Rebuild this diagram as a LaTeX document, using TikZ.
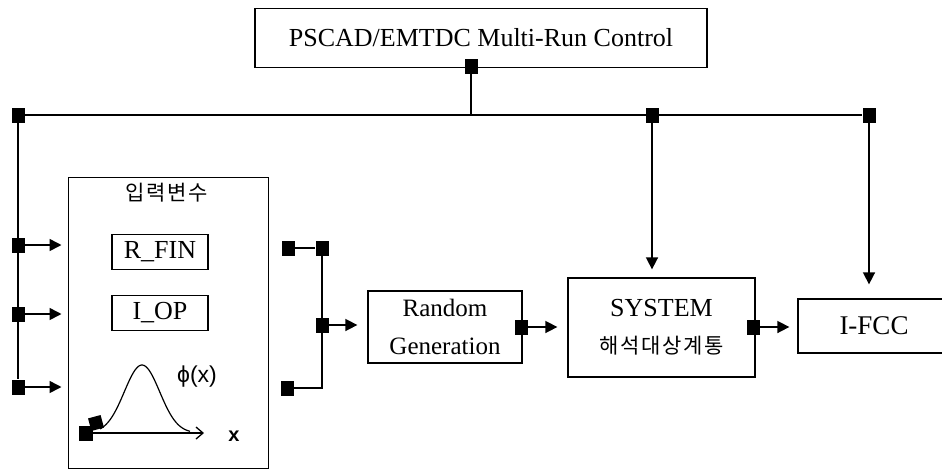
\documentclass[tikz,border=0pt]{standalone}
\usepackage{fontspec}
\setmainfont{Liberation Serif}
\newfontfamily\krfont[LetterSpace=8]{Noto Sans CJK KR}
\newfontfamily\arfont{Liberation Sans}
\usetikzlibrary{arrows.meta}
\begin{document}
\begin{tikzpicture}[x=1pt,y=-1pt,
  bx/.style={draw, line width=1.3pt, inner sep=0pt, align=center},
  term/.style={fill=black, minimum width=13pt, minimum height=15pt, inner sep=0pt},
  ln/.style={line width=1.6pt},
  arr/.style={ln, -{Triangle[length=12pt,width=12pt]}},
  big/.style={font=\fontsize{26}{30}\selectfont}]
\useasboundingbox (0,0) rectangle (942,472);
% top control box
\node[bx, big, minimum width=452pt, minimum height=59pt] (top) at (481,38) {PSCAD/EMTDC Multi-Run Control};
\node[term] (t0) at (471,66) {};
\coordinate (bj) at (471,115);
\node[term] (b0) at (18,115) {};
\node[term] (b1) at (652,115) {};
\node[term] (b2) at (869,115) {};
\draw[ln] (t0) -- (bj);
\draw[ln] (b0) -- (b2);
% left feeders
\node[term] (l1) at (18,245) {};
\node[term] (l2) at (18,314) {};
\node[term] (l3) at (18,387) {};
\draw[ln] (b0) -- (l3);
% input box
\node[draw, line width=1pt, minimum width=200pt, minimum height=291pt, inner sep=0pt] (inb) at (168,322.5) {};
\node[font=\krfont\fontsize{21}{24}\selectfont] (inl) at (167,193) {입력변수};
\node[bx, big, minimum width=96pt, minimum height=35pt] (rfin) at (160,252) {R\_FIN};
\node[bx, big, minimum width=96pt, minimum height=35pt] (iop) at (160,313) {I\_OP};
\draw[arr, shorten >=6pt] (l1) -- (l1 -| inb.west);
\draw[arr, shorten >=6pt] (l2) -- (l2 -| inb.west);
\draw[arr, shorten >=6pt] (l3) -- (l3 -| inb.west);
% distribution sketch
\draw[line width=1.2pt] plot[domain=100:190, samples=60, smooth] (\x, {433-68*exp(-((\x-142)/25)^2)});
\node[term, minimum width=14pt, minimum height=15pt] (g1) at (86,433) {};
\node[term, minimum width=13pt, minimum height=13pt, rotate=15] (g2) at (96,423) {};
\coordinate (ax) at (204,433);
\draw[line width=1.3pt, -{Straight Barb[length=7pt,width=12pt]}] (g1.east) -- (ax);
\node[font=\arfont\fontsize{23}{26}\selectfont] (phi) at (197,377) {ϕ(x)};
\node[font=\arfont\bfseries\fontsize{20}{24}\selectfont] (xl) at (234,436) {x};
% collector
\node[term] (r1) at (288,248) {};
\node[term] (r2) at (322,248) {};
\node[term] (r3) at (322,325) {};
\node[term] (r4) at (287,388) {};
\coordinate (r5) at (322,388);
\draw[ln] (r1) -- (r2);
\draw[ln] (r2) -- (r5) -- (r4);
% random generation
\node[bx, minimum width=154pt, minimum height=72pt, font=\fontsize{25}{38}\selectfont] (rg) at (445,327) {Random\\Generation};
\draw[arr, shorten >=10pt] (r3) -- (r3 -| rg.west);
\node[term] (rg1) at (521,327) {};
% system
\node[bx, minimum width=187pt, minimum height=99pt, font=\fontsize{26}{37}\selectfont] (sys) at (661.5,327.5) {SYSTEM\\{\krfont\fontsize{21}{26}\selectfont 해석대상계통}};
\draw[arr, shorten >=10pt] (rg1) -- (rg1 -| sys.west);
\node[term] (s1) at (753,327) {};
% I-FCC
\node[bx, minimum width=152pt, minimum height=54pt, font=\fontsize{27}{30}\selectfont] (ifcc) at (874,326) {I-FCC};
\draw[arr, shorten >=8pt] (s1) -- (s1 -| ifcc.west);
% drops from bus
\draw[arr, shorten >=8pt] (b1) -- (b1 |- sys.north);
\draw[arr, shorten >=14pt] (b2) -- (b2 |- ifcc.north);
\end{tikzpicture}
\end{document}
